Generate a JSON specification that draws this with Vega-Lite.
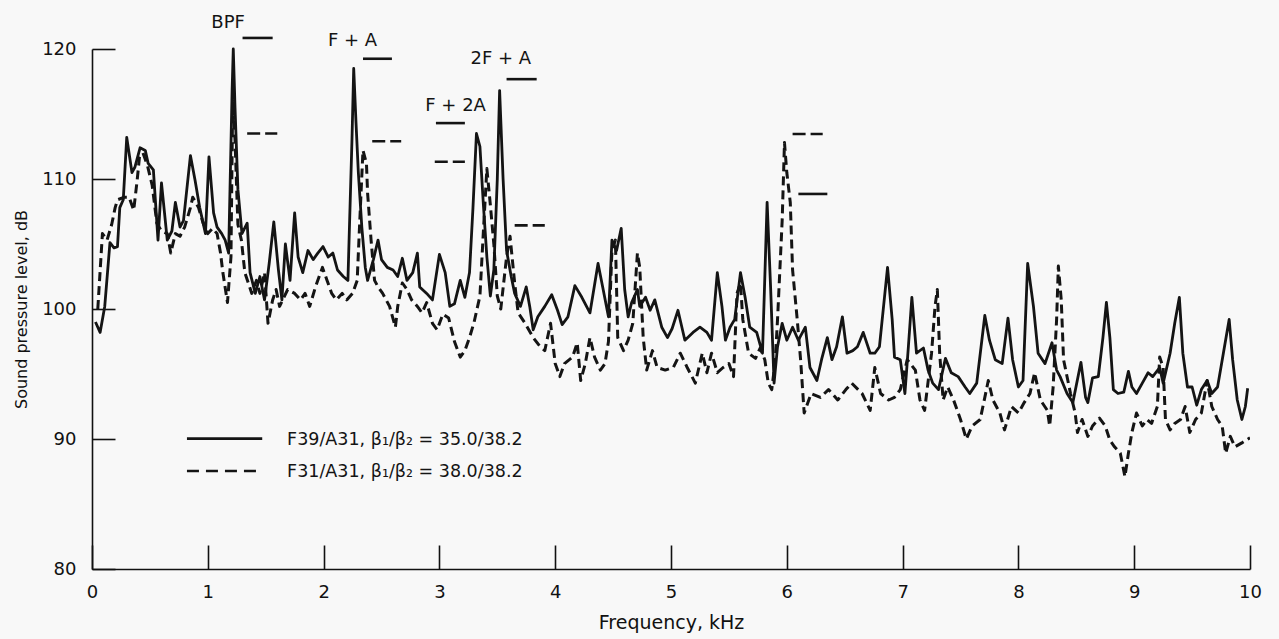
{
  "$schema": "https://vega.github.io/schema/vega-lite/v6.json",
  "width": 1158,
  "height": 520,
  "autosize": {"type": "none"},
  "padding": {"left": 92, "top": 49, "right": 29, "bottom": 70},
  "background": "#f8f8f8",
  "config": {
    "view": {"stroke": null},
    "font": "DejaVu Sans",
    "axis": {
      "grid": false,
      "labelFlush": false,
      "domainColor": "#111111",
      "domainWidth": 1.6,
      "tickColor": "#111111",
      "tickWidth": 1.6,
      "labelColor": "#111111",
      "labelFont": "DejaVu Sans",
      "labelFontSize": 18,
      "titleColor": "#111111",
      "titleFont": "DejaVu Sans",
      "titleFontWeight": "normal"
    }
  },
  "datasets": {
    "spectra": [
      {"f":0.03,"db":99.0,"s":"solid"},{"f":0.07,"db":98.2,"s":"solid"},{"f":0.11,"db":100.2,"s":"solid"},{"f":0.155,"db":105.1,"s":"solid"},{"f":0.19,"db":104.7,"s":"solid"},{"f":0.22,"db":104.8,"s":"solid"},{"f":0.24,"db":107.8,"s":"solid"},{"f":0.27,"db":108.4,"s":"solid"},{"f":0.30,"db":113.2,"s":"solid"},{"f":0.345,"db":110.5,"s":"solid"},{"f":0.37,"db":110.9,"s":"solid"},{"f":0.415,"db":112.4,"s":"solid"},{"f":0.46,"db":112.2,"s":"solid"},{"f":0.485,"db":111.2,"s":"solid"},{"f":0.53,"db":110.7,"s":"solid"},{"f":0.57,"db":105.3,"s":"solid"},{"f":0.60,"db":109.7,"s":"solid"},{"f":0.65,"db":105.3,"s":"solid"},{"f":0.69,"db":106.0,"s":"solid"},{"f":0.72,"db":108.2,"s":"solid"},{"f":0.76,"db":106.3,"s":"solid"},{"f":0.79,"db":106.8,"s":"solid"},{"f":0.85,"db":111.8,"s":"solid"},{"f":0.89,"db":109.9,"s":"solid"},{"f":0.93,"db":107.8,"s":"solid"},{"f":0.98,"db":105.8,"s":"solid"},{"f":1.01,"db":111.7,"s":"solid"},{"f":1.05,"db":107.4,"s":"solid"},{"f":1.08,"db":106.3,"s":"solid"},{"f":1.12,"db":105.8,"s":"solid"},{"f":1.15,"db":105.3,"s":"solid"},{"f":1.18,"db":104.3,"s":"solid"},{"f":1.21,"db":116.8,"s":"solid"},{"f":1.22,"db":120.0,"s":"solid"},{"f":1.235,"db":115.5,"s":"solid"},{"f":1.26,"db":109.2,"s":"solid"},{"f":1.295,"db":105.8,"s":"solid"},{"f":1.34,"db":106.6,"s":"solid"},{"f":1.365,"db":102.8,"s":"solid"},{"f":1.41,"db":101.2,"s":"solid"},{"f":1.45,"db":102.5,"s":"solid"},{"f":1.49,"db":100.7,"s":"solid"},{"f":1.53,"db":103.5,"s":"solid"},{"f":1.57,"db":106.7,"s":"solid"},{"f":1.61,"db":103.0,"s":"solid"},{"f":1.64,"db":100.7,"s":"solid"},{"f":1.67,"db":105.0,"s":"solid"},{"f":1.71,"db":102.2,"s":"solid"},{"f":1.75,"db":107.4,"s":"solid"},{"f":1.78,"db":104.0,"s":"solid"},{"f":1.82,"db":102.8,"s":"solid"},{"f":1.865,"db":104.5,"s":"solid"},{"f":1.91,"db":103.8,"s":"solid"},{"f":1.95,"db":104.3,"s":"solid"},{"f":1.995,"db":104.8,"s":"solid"},{"f":2.04,"db":104.0,"s":"solid"},{"f":2.08,"db":104.3,"s":"solid"},{"f":2.12,"db":103.0,"s":"solid"},{"f":2.17,"db":102.5,"s":"solid"},{"f":2.21,"db":102.2,"s":"solid"},{"f":2.245,"db":113.0,"s":"solid"},{"f":2.26,"db":118.5,"s":"solid"},{"f":2.28,"db":114.3,"s":"solid"},{"f":2.30,"db":110.5,"s":"solid"},{"f":2.33,"db":106.3,"s":"solid"},{"f":2.36,"db":103.2,"s":"solid"},{"f":2.38,"db":102.2,"s":"solid"},{"f":2.43,"db":103.8,"s":"solid"},{"f":2.47,"db":105.3,"s":"solid"},{"f":2.50,"db":103.8,"s":"solid"},{"f":2.55,"db":103.2,"s":"solid"},{"f":2.60,"db":103.0,"s":"solid"},{"f":2.64,"db":102.5,"s":"solid"},{"f":2.68,"db":103.9,"s":"solid"},{"f":2.72,"db":102.2,"s":"solid"},{"f":2.77,"db":102.8,"s":"solid"},{"f":2.81,"db":104.3,"s":"solid"},{"f":2.83,"db":101.7,"s":"solid"},{"f":2.89,"db":101.2,"s":"solid"},{"f":2.94,"db":100.7,"s":"solid"},{"f":3.00,"db":104.2,"s":"solid"},{"f":3.05,"db":102.8,"s":"solid"},{"f":3.09,"db":100.2,"s":"solid"},{"f":3.13,"db":100.4,"s":"solid"},{"f":3.18,"db":102.2,"s":"solid"},{"f":3.22,"db":100.9,"s":"solid"},{"f":3.26,"db":102.8,"s":"solid"},{"f":3.29,"db":107.8,"s":"solid"},{"f":3.32,"db":113.5,"s":"solid"},{"f":3.35,"db":112.5,"s":"solid"},{"f":3.38,"db":108.0,"s":"solid"},{"f":3.41,"db":104.0,"s":"solid"},{"f":3.44,"db":101.0,"s":"solid"},{"f":3.47,"db":103.0,"s":"solid"},{"f":3.50,"db":110.0,"s":"solid"},{"f":3.52,"db":116.8,"s":"solid"},{"f":3.55,"db":110.0,"s":"solid"},{"f":3.58,"db":104.5,"s":"solid"},{"f":3.62,"db":102.5,"s":"solid"},{"f":3.65,"db":101.2,"s":"solid"},{"f":3.70,"db":100.2,"s":"solid"},{"f":3.75,"db":101.7,"s":"solid"},{"f":3.78,"db":100.2,"s":"solid"},{"f":3.81,"db":98.4,"s":"solid"},{"f":3.85,"db":99.4,"s":"solid"},{"f":3.91,"db":100.2,"s":"solid"},{"f":3.97,"db":101.1,"s":"solid"},{"f":4.02,"db":99.9,"s":"solid"},{"f":4.06,"db":98.8,"s":"solid"},{"f":4.11,"db":99.4,"s":"solid"},{"f":4.17,"db":101.8,"s":"solid"},{"f":4.23,"db":100.9,"s":"solid"},{"f":4.30,"db":99.7,"s":"solid"},{"f":4.37,"db":103.5,"s":"solid"},{"f":4.41,"db":101.7,"s":"solid"},{"f":4.46,"db":99.4,"s":"solid"},{"f":4.49,"db":105.3,"s":"solid"},{"f":4.53,"db":104.5,"s":"solid"},{"f":4.57,"db":106.2,"s":"solid"},{"f":4.60,"db":101.5,"s":"solid"},{"f":4.63,"db":99.4,"s":"solid"},{"f":4.66,"db":100.5,"s":"solid"},{"f":4.71,"db":101.5,"s":"solid"},{"f":4.73,"db":100.2,"s":"solid"},{"f":4.78,"db":100.9,"s":"solid"},{"f":4.82,"db":99.9,"s":"solid"},{"f":4.86,"db":100.7,"s":"solid"},{"f":4.92,"db":98.6,"s":"solid"},{"f":4.97,"db":97.8,"s":"solid"},{"f":5.01,"db":98.5,"s":"solid"},{"f":5.06,"db":99.9,"s":"solid"},{"f":5.12,"db":97.6,"s":"solid"},{"f":5.19,"db":98.2,"s":"solid"},{"f":5.25,"db":98.6,"s":"solid"},{"f":5.31,"db":98.2,"s":"solid"},{"f":5.35,"db":97.6,"s":"solid"},{"f":5.40,"db":102.8,"s":"solid"},{"f":5.44,"db":100.2,"s":"solid"},{"f":5.47,"db":97.6,"s":"solid"},{"f":5.51,"db":98.6,"s":"solid"},{"f":5.55,"db":99.2,"s":"solid"},{"f":5.60,"db":102.8,"s":"solid"},{"f":5.64,"db":100.9,"s":"solid"},{"f":5.68,"db":98.6,"s":"solid"},{"f":5.74,"db":98.2,"s":"solid"},{"f":5.79,"db":96.6,"s":"solid"},{"f":5.83,"db":108.2,"s":"solid"},{"f":5.86,"db":101.7,"s":"solid"},{"f":5.89,"db":94.3,"s":"solid"},{"f":5.92,"db":97.1,"s":"solid"},{"f":5.96,"db":98.9,"s":"solid"},{"f":6.00,"db":97.6,"s":"solid"},{"f":6.05,"db":98.6,"s":"solid"},{"f":6.10,"db":97.6,"s":"solid"},{"f":6.16,"db":98.6,"s":"solid"},{"f":6.20,"db":95.5,"s":"solid"},{"f":6.26,"db":94.5,"s":"solid"},{"f":6.30,"db":96.1,"s":"solid"},{"f":6.35,"db":97.8,"s":"solid"},{"f":6.39,"db":96.1,"s":"solid"},{"f":6.43,"db":97.1,"s":"solid"},{"f":6.48,"db":99.4,"s":"solid"},{"f":6.52,"db":96.6,"s":"solid"},{"f":6.57,"db":96.8,"s":"solid"},{"f":6.61,"db":97.1,"s":"solid"},{"f":6.66,"db":98.2,"s":"solid"},{"f":6.72,"db":96.6,"s":"solid"},{"f":6.76,"db":96.6,"s":"solid"},{"f":6.80,"db":97.1,"s":"solid"},{"f":6.87,"db":103.2,"s":"solid"},{"f":6.91,"db":99.2,"s":"solid"},{"f":6.93,"db":96.3,"s":"solid"},{"f":6.98,"db":96.1,"s":"solid"},{"f":7.02,"db":93.5,"s":"solid"},{"f":7.05,"db":97.1,"s":"solid"},{"f":7.08,"db":100.9,"s":"solid"},{"f":7.12,"db":96.6,"s":"solid"},{"f":7.18,"db":97.0,"s":"solid"},{"f":7.22,"db":95.3,"s":"solid"},{"f":7.26,"db":94.3,"s":"solid"},{"f":7.31,"db":93.8,"s":"solid"},{"f":7.37,"db":96.2,"s":"solid"},{"f":7.42,"db":95.1,"s":"solid"},{"f":7.48,"db":94.8,"s":"solid"},{"f":7.54,"db":94.0,"s":"solid"},{"f":7.58,"db":93.5,"s":"solid"},{"f":7.64,"db":94.3,"s":"solid"},{"f":7.71,"db":99.5,"s":"solid"},{"f":7.75,"db":97.6,"s":"solid"},{"f":7.80,"db":96.1,"s":"solid"},{"f":7.86,"db":95.8,"s":"solid"},{"f":7.91,"db":99.3,"s":"solid"},{"f":7.95,"db":96.1,"s":"solid"},{"f":8.00,"db":94.0,"s":"solid"},{"f":8.04,"db":94.5,"s":"solid"},{"f":8.08,"db":103.5,"s":"solid"},{"f":8.13,"db":100.2,"s":"solid"},{"f":8.17,"db":96.6,"s":"solid"},{"f":8.23,"db":95.8,"s":"solid"},{"f":8.29,"db":97.4,"s":"solid"},{"f":8.33,"db":95.3,"s":"solid"},{"f":8.36,"db":94.8,"s":"solid"},{"f":8.42,"db":93.5,"s":"solid"},{"f":8.47,"db":92.8,"s":"solid"},{"f":8.54,"db":95.9,"s":"solid"},{"f":8.58,"db":93.2,"s":"solid"},{"f":8.60,"db":92.8,"s":"solid"},{"f":8.64,"db":94.7,"s":"solid"},{"f":8.69,"db":94.8,"s":"solid"},{"f":8.73,"db":97.8,"s":"solid"},{"f":8.76,"db":100.5,"s":"solid"},{"f":8.79,"db":97.8,"s":"solid"},{"f":8.82,"db":93.8,"s":"solid"},{"f":8.86,"db":93.5,"s":"solid"},{"f":8.91,"db":93.6,"s":"solid"},{"f":8.95,"db":95.2,"s":"solid"},{"f":8.98,"db":94.0,"s":"solid"},{"f":9.02,"db":93.5,"s":"solid"},{"f":9.07,"db":94.3,"s":"solid"},{"f":9.12,"db":95.1,"s":"solid"},{"f":9.16,"db":94.8,"s":"solid"},{"f":9.22,"db":95.5,"s":"solid"},{"f":9.25,"db":94.3,"s":"solid"},{"f":9.31,"db":96.6,"s":"solid"},{"f":9.35,"db":98.9,"s":"solid"},{"f":9.39,"db":100.9,"s":"solid"},{"f":9.42,"db":96.6,"s":"solid"},{"f":9.46,"db":94.0,"s":"solid"},{"f":9.50,"db":94.0,"s":"solid"},{"f":9.54,"db":92.6,"s":"solid"},{"f":9.58,"db":93.8,"s":"solid"},{"f":9.63,"db":94.5,"s":"solid"},{"f":9.67,"db":93.5,"s":"solid"},{"f":9.72,"db":94.0,"s":"solid"},{"f":9.77,"db":96.6,"s":"solid"},{"f":9.82,"db":99.2,"s":"solid"},{"f":9.85,"db":96.1,"s":"solid"},{"f":9.89,"db":93.0,"s":"solid"},{"f":9.93,"db":91.5,"s":"solid"},{"f":9.96,"db":92.5,"s":"solid"},{"f":9.98,"db":93.9,"s":"solid"},
      {"f":0.05,"db":100.0,"s":"dashed"},{"f":0.09,"db":105.8,"s":"dashed"},{"f":0.13,"db":105.3,"s":"dashed"},{"f":0.17,"db":106.5,"s":"dashed"},{"f":0.20,"db":107.8,"s":"dashed"},{"f":0.22,"db":108.4,"s":"dashed"},{"f":0.28,"db":108.6,"s":"dashed"},{"f":0.32,"db":108.6,"s":"dashed"},{"f":0.36,"db":107.6,"s":"dashed"},{"f":0.39,"db":109.9,"s":"dashed"},{"f":0.41,"db":111.7,"s":"dashed"},{"f":0.44,"db":112.0,"s":"dashed"},{"f":0.48,"db":111.0,"s":"dashed"},{"f":0.52,"db":109.5,"s":"dashed"},{"f":0.56,"db":106.6,"s":"dashed"},{"f":0.60,"db":106.0,"s":"dashed"},{"f":0.65,"db":105.8,"s":"dashed"},{"f":0.68,"db":104.3,"s":"dashed"},{"f":0.72,"db":105.8,"s":"dashed"},{"f":0.76,"db":105.6,"s":"dashed"},{"f":0.80,"db":106.3,"s":"dashed"},{"f":0.85,"db":107.8,"s":"dashed"},{"f":0.87,"db":108.6,"s":"dashed"},{"f":0.92,"db":107.8,"s":"dashed"},{"f":0.96,"db":106.6,"s":"dashed"},{"f":1.00,"db":105.8,"s":"dashed"},{"f":1.04,"db":106.2,"s":"dashed"},{"f":1.08,"db":105.8,"s":"dashed"},{"f":1.11,"db":104.3,"s":"dashed"},{"f":1.13,"db":102.8,"s":"dashed"},{"f":1.17,"db":100.5,"s":"dashed"},{"f":1.20,"db":104.0,"s":"dashed"},{"f":1.215,"db":116.0,"s":"dashed"},{"f":1.235,"db":113.0,"s":"dashed"},{"f":1.26,"db":106.5,"s":"dashed"},{"f":1.29,"db":105.3,"s":"dashed"},{"f":1.32,"db":102.8,"s":"dashed"},{"f":1.35,"db":102.0,"s":"dashed"},{"f":1.38,"db":101.2,"s":"dashed"},{"f":1.42,"db":102.2,"s":"dashed"},{"f":1.45,"db":101.2,"s":"dashed"},{"f":1.49,"db":102.8,"s":"dashed"},{"f":1.52,"db":98.9,"s":"dashed"},{"f":1.56,"db":100.7,"s":"dashed"},{"f":1.59,"db":101.5,"s":"dashed"},{"f":1.62,"db":100.2,"s":"dashed"},{"f":1.69,"db":101.5,"s":"dashed"},{"f":1.75,"db":101.2,"s":"dashed"},{"f":1.80,"db":100.7,"s":"dashed"},{"f":1.84,"db":101.2,"s":"dashed"},{"f":1.88,"db":100.2,"s":"dashed"},{"f":1.93,"db":101.7,"s":"dashed"},{"f":1.99,"db":103.2,"s":"dashed"},{"f":2.03,"db":102.2,"s":"dashed"},{"f":2.07,"db":101.2,"s":"dashed"},{"f":2.11,"db":100.7,"s":"dashed"},{"f":2.16,"db":101.2,"s":"dashed"},{"f":2.20,"db":100.7,"s":"dashed"},{"f":2.25,"db":101.2,"s":"dashed"},{"f":2.29,"db":102.2,"s":"dashed"},{"f":2.31,"db":106.3,"s":"dashed"},{"f":2.34,"db":112.2,"s":"dashed"},{"f":2.37,"db":111.2,"s":"dashed"},{"f":2.38,"db":108.9,"s":"dashed"},{"f":2.41,"db":105.3,"s":"dashed"},{"f":2.44,"db":102.2,"s":"dashed"},{"f":2.47,"db":101.7,"s":"dashed"},{"f":2.51,"db":101.2,"s":"dashed"},{"f":2.57,"db":100.2,"s":"dashed"},{"f":2.62,"db":98.6,"s":"dashed"},{"f":2.64,"db":100.2,"s":"dashed"},{"f":2.68,"db":102.0,"s":"dashed"},{"f":2.72,"db":101.5,"s":"dashed"},{"f":2.76,"db":100.7,"s":"dashed"},{"f":2.81,"db":100.2,"s":"dashed"},{"f":2.85,"db":99.7,"s":"dashed"},{"f":2.89,"db":100.5,"s":"dashed"},{"f":2.94,"db":98.9,"s":"dashed"},{"f":2.98,"db":98.4,"s":"dashed"},{"f":3.03,"db":99.6,"s":"dashed"},{"f":3.08,"db":99.3,"s":"dashed"},{"f":3.13,"db":97.5,"s":"dashed"},{"f":3.18,"db":96.3,"s":"dashed"},{"f":3.22,"db":96.8,"s":"dashed"},{"f":3.26,"db":97.8,"s":"dashed"},{"f":3.30,"db":99.0,"s":"dashed"},{"f":3.35,"db":101.0,"s":"dashed"},{"f":3.38,"db":106.0,"s":"dashed"},{"f":3.41,"db":110.8,"s":"dashed"},{"f":3.44,"db":108.0,"s":"dashed"},{"f":3.47,"db":105.0,"s":"dashed"},{"f":3.50,"db":101.0,"s":"dashed"},{"f":3.53,"db":100.0,"s":"dashed"},{"f":3.58,"db":104.0,"s":"dashed"},{"f":3.61,"db":105.6,"s":"dashed"},{"f":3.65,"db":102.0,"s":"dashed"},{"f":3.68,"db":99.7,"s":"dashed"},{"f":3.74,"db":98.9,"s":"dashed"},{"f":3.81,"db":97.8,"s":"dashed"},{"f":3.87,"db":97.1,"s":"dashed"},{"f":3.91,"db":96.8,"s":"dashed"},{"f":3.96,"db":98.9,"s":"dashed"},{"f":4.00,"db":95.8,"s":"dashed"},{"f":4.04,"db":94.8,"s":"dashed"},{"f":4.08,"db":95.8,"s":"dashed"},{"f":4.15,"db":96.3,"s":"dashed"},{"f":4.19,"db":97.4,"s":"dashed"},{"f":4.22,"db":94.5,"s":"dashed"},{"f":4.26,"db":95.8,"s":"dashed"},{"f":4.30,"db":97.8,"s":"dashed"},{"f":4.34,"db":96.3,"s":"dashed"},{"f":4.39,"db":95.3,"s":"dashed"},{"f":4.43,"db":95.8,"s":"dashed"},{"f":4.46,"db":97.5,"s":"dashed"},{"f":4.49,"db":104.5,"s":"dashed"},{"f":4.52,"db":105.3,"s":"dashed"},{"f":4.54,"db":97.8,"s":"dashed"},{"f":4.59,"db":96.8,"s":"dashed"},{"f":4.63,"db":97.6,"s":"dashed"},{"f":4.67,"db":98.9,"s":"dashed"},{"f":4.71,"db":104.3,"s":"dashed"},{"f":4.73,"db":103.2,"s":"dashed"},{"f":4.76,"db":97.8,"s":"dashed"},{"f":4.79,"db":95.3,"s":"dashed"},{"f":4.84,"db":96.8,"s":"dashed"},{"f":4.88,"db":95.5,"s":"dashed"},{"f":4.95,"db":95.3,"s":"dashed"},{"f":5.02,"db":95.5,"s":"dashed"},{"f":5.08,"db":96.6,"s":"dashed"},{"f":5.14,"db":95.5,"s":"dashed"},{"f":5.21,"db":94.3,"s":"dashed"},{"f":5.27,"db":96.6,"s":"dashed"},{"f":5.31,"db":95.1,"s":"dashed"},{"f":5.35,"db":96.6,"s":"dashed"},{"f":5.40,"db":95.1,"s":"dashed"},{"f":5.45,"db":95.5,"s":"dashed"},{"f":5.50,"db":95.8,"s":"dashed"},{"f":5.54,"db":94.8,"s":"dashed"},{"f":5.57,"db":101.2,"s":"dashed"},{"f":5.60,"db":102.0,"s":"dashed"},{"f":5.62,"db":99.2,"s":"dashed"},{"f":5.67,"db":96.6,"s":"dashed"},{"f":5.73,"db":96.2,"s":"dashed"},{"f":5.77,"db":97.0,"s":"dashed"},{"f":5.81,"db":96.1,"s":"dashed"},{"f":5.84,"db":94.3,"s":"dashed"},{"f":5.87,"db":93.8,"s":"dashed"},{"f":5.90,"db":96.0,"s":"dashed"},{"f":5.92,"db":99.2,"s":"dashed"},{"f":5.96,"db":106.8,"s":"dashed"},{"f":5.98,"db":112.8,"s":"dashed"},{"f":6.00,"db":110.5,"s":"dashed"},{"f":6.03,"db":108.2,"s":"dashed"},{"f":6.05,"db":103.0,"s":"dashed"},{"f":6.09,"db":99.2,"s":"dashed"},{"f":6.12,"db":96.0,"s":"dashed"},{"f":6.15,"db":92.0,"s":"dashed"},{"f":6.21,"db":93.5,"s":"dashed"},{"f":6.29,"db":93.2,"s":"dashed"},{"f":6.36,"db":93.8,"s":"dashed"},{"f":6.44,"db":93.0,"s":"dashed"},{"f":6.51,"db":93.8,"s":"dashed"},{"f":6.56,"db":94.3,"s":"dashed"},{"f":6.65,"db":93.5,"s":"dashed"},{"f":6.72,"db":92.2,"s":"dashed"},{"f":6.76,"db":95.5,"s":"dashed"},{"f":6.81,"db":93.5,"s":"dashed"},{"f":6.88,"db":93.0,"s":"dashed"},{"f":6.93,"db":93.2,"s":"dashed"},{"f":6.98,"db":93.8,"s":"dashed"},{"f":7.04,"db":96.1,"s":"dashed"},{"f":7.11,"db":95.3,"s":"dashed"},{"f":7.15,"db":93.0,"s":"dashed"},{"f":7.19,"db":92.2,"s":"dashed"},{"f":7.25,"db":96.6,"s":"dashed"},{"f":7.28,"db":100.2,"s":"dashed"},{"f":7.30,"db":101.5,"s":"dashed"},{"f":7.32,"db":96.6,"s":"dashed"},{"f":7.35,"db":93.0,"s":"dashed"},{"f":7.39,"db":94.0,"s":"dashed"},{"f":7.44,"db":93.0,"s":"dashed"},{"f":7.50,"db":91.5,"s":"dashed"},{"f":7.55,"db":90.0,"s":"dashed"},{"f":7.60,"db":91.0,"s":"dashed"},{"f":7.67,"db":91.5,"s":"dashed"},{"f":7.71,"db":93.2,"s":"dashed"},{"f":7.74,"db":94.5,"s":"dashed"},{"f":7.78,"db":93.0,"s":"dashed"},{"f":7.84,"db":92.0,"s":"dashed"},{"f":7.88,"db":90.7,"s":"dashed"},{"f":7.94,"db":92.5,"s":"dashed"},{"f":8.00,"db":92.0,"s":"dashed"},{"f":8.05,"db":92.8,"s":"dashed"},{"f":8.10,"db":93.5,"s":"dashed"},{"f":8.14,"db":95.1,"s":"dashed"},{"f":8.19,"db":93.0,"s":"dashed"},{"f":8.25,"db":92.2,"s":"dashed"},{"f":8.27,"db":91.0,"s":"dashed"},{"f":8.30,"db":94.0,"s":"dashed"},{"f":8.33,"db":99.2,"s":"dashed"},{"f":8.345,"db":103.3,"s":"dashed"},{"f":8.37,"db":100.7,"s":"dashed"},{"f":8.39,"db":96.1,"s":"dashed"},{"f":8.45,"db":93.5,"s":"dashed"},{"f":8.49,"db":92.0,"s":"dashed"},{"f":8.51,"db":90.5,"s":"dashed"},{"f":8.55,"db":91.5,"s":"dashed"},{"f":8.60,"db":90.2,"s":"dashed"},{"f":8.64,"db":91.0,"s":"dashed"},{"f":8.70,"db":91.6,"s":"dashed"},{"f":8.75,"db":91.0,"s":"dashed"},{"f":8.79,"db":89.9,"s":"dashed"},{"f":8.83,"db":89.4,"s":"dashed"},{"f":8.88,"db":88.9,"s":"dashed"},{"f":8.92,"db":87.1,"s":"dashed"},{"f":8.95,"db":88.9,"s":"dashed"},{"f":8.98,"db":90.5,"s":"dashed"},{"f":9.02,"db":92.0,"s":"dashed"},{"f":9.07,"db":91.0,"s":"dashed"},{"f":9.11,"db":91.5,"s":"dashed"},{"f":9.15,"db":91.2,"s":"dashed"},{"f":9.20,"db":92.5,"s":"dashed"},{"f":9.22,"db":96.3,"s":"dashed"},{"f":9.25,"db":95.5,"s":"dashed"},{"f":9.27,"db":91.5,"s":"dashed"},{"f":9.31,"db":90.7,"s":"dashed"},{"f":9.35,"db":91.2,"s":"dashed"},{"f":9.40,"db":91.5,"s":"dashed"},{"f":9.44,"db":92.5,"s":"dashed"},{"f":9.48,"db":90.5,"s":"dashed"},{"f":9.53,"db":91.5,"s":"dashed"},{"f":9.58,"db":92.0,"s":"dashed"},{"f":9.63,"db":94.5,"s":"dashed"},{"f":9.67,"db":92.5,"s":"dashed"},{"f":9.72,"db":91.5,"s":"dashed"},{"f":9.76,"db":91.0,"s":"dashed"},{"f":9.79,"db":88.9,"s":"dashed"},{"f":9.83,"db":90.2,"s":"dashed"},{"f":9.87,"db":89.4,"s":"dashed"},{"f":9.93,"db":89.7,"s":"dashed"},{"f":10.0,"db":90.1,"s":"dashed"}
    ],
    "levels": [
      {"f":1.30,"f2":1.56,"db":120.85,"s":"solid"},
      {"f":2.34,"f2":2.59,"db":119.25,"s":"solid"},
      {"f":2.97,"f2":3.22,"db":114.3,"s":"solid"},
      {"f":3.58,"f2":3.84,"db":117.68,"s":"solid"},
      {"f":6.10,"f2":6.35,"db":108.85,"s":"solid"},
      {"f":1.34,"f2":1.60,"db":113.5,"s":"dashed"},
      {"f":2.42,"f2":2.67,"db":112.9,"s":"dashed"},
      {"f":2.96,"f2":3.22,"db":111.33,"s":"dashed"},
      {"f":3.65,"f2":3.91,"db":106.43,"s":"dashed"},
      {"f":6.05,"f2":6.31,"db":113.46,"s":"dashed"},
      {"f":0.82,"f2":1.47,"db":90.03,"s":"legendsolid"},
      {"f":0.82,"f2":1.47,"db":87.54,"s":"legenddashed"}
    ],
    "labels": [
      {"f":1.175,"db":122.0,"label":"BPF"},
      {"f":2.25,"db":120.64,"label":"F + A"},
      {"f":3.53,"db":119.23,"label":"2F + A"},
      {"f":3.14,"db":115.65,"label":"F + 2A"}
    ],
    "legendtext": [
      {"f":1.685,"db":89.95,"label":"F39/A31, β₁/β₂ = 35.0/38.2"},
      {"f":1.685,"db":87.5,"label":"F31/A31, β₁/β₂ = 38.0/38.2"}
    ]
  },
  "encoding": {
    "x": {
      "field": "f",
      "type": "quantitative",
      "scale": {"domain": [0, 10], "nice": false, "zero": false},
      "axis": {
        "values": [0, 1, 2, 3, 4, 5, 6, 7, 8, 9, 10],
        "tickSize": -24,
        "labelPadding": 38,
        "title": "Frequency, kHz",
        "titleFontSize": 19,
        "titlePadding": 12
      }
    },
    "y": {
      "field": "db",
      "type": "quantitative",
      "scale": {"domain": [80, 120], "nice": false, "zero": false},
      "axis": {
        "values": [80, 90, 100, 110, 120],
        "tickSize": -23,
        "labelPadding": 39,
        "title": "Sound pressure level, dB",
        "titleFontSize": 16,
        "titlePadding": 12
      }
    }
  },
  "layer": [
    {
      "data": {"name": "spectra"},
      "transform": [{"filter": "datum.s === 'dashed'"}],
      "mark": {"type": "line", "color": "#141414", "strokeWidth": 3, "strokeDash": [9, 5], "strokeJoin": "round", "clip": true}
    },
    {
      "data": {"name": "spectra"},
      "transform": [{"filter": "datum.s === 'solid'"}],
      "mark": {"type": "line", "color": "#141414", "strokeWidth": 2.8, "strokeJoin": "round", "clip": false}
    },
    {
      "data": {"name": "levels"},
      "transform": [{"filter": "datum.s === 'solid' || datum.s === 'legendsolid'"}],
      "mark": {"type": "rule", "color": "#141414", "strokeWidth": 2.6},
      "encoding": {"x2": {"field": "f2"}}
    },
    {
      "data": {"name": "levels"},
      "transform": [{"filter": "datum.s === 'dashed'"}],
      "mark": {"type": "rule", "color": "#141414", "strokeWidth": 2.6, "strokeDash": [13, 5]},
      "encoding": {"x2": {"field": "f2"}}
    },
    {
      "data": {"name": "levels"},
      "transform": [{"filter": "datum.s === 'legenddashed'"}],
      "mark": {"type": "rule", "color": "#141414", "strokeWidth": 2.4, "strokeDash": [12, 7]},
      "encoding": {"x2": {"field": "f2"}}
    },
    {
      "data": {"name": "labels"},
      "mark": {"type": "text", "font": "DejaVu Sans", "fontSize": 18, "color": "#141414", "align": "center", "baseline": "middle"},
      "encoding": {"text": {"field": "label"}}
    },
    {
      "data": {"name": "legendtext"},
      "mark": {"type": "text", "font": "DejaVu Sans", "fontSize": 17.5, "color": "#141414", "align": "left", "baseline": "middle"},
      "encoding": {"text": {"field": "label"}}
    }
  ]
}
